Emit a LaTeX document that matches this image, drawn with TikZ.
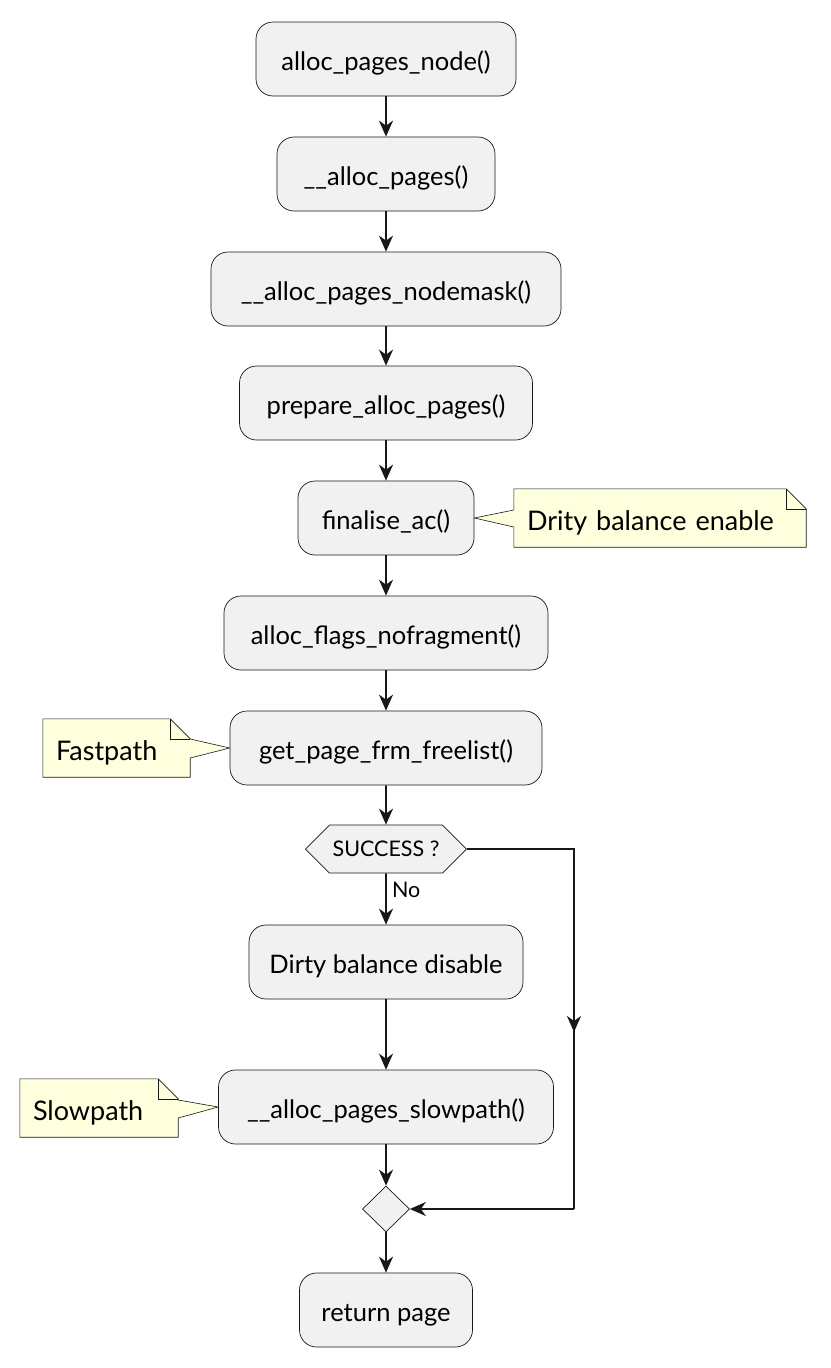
\documentclass[tikz,border=0pt]{standalone}
\usepackage{fontspec}
\setmainfont{Lato}
\usetikzlibrary{shapes.geometric,shapes.symbols,arrows.meta,calc}
\definecolor{actfill}{HTML}{F1F1F1}
\definecolor{linec}{HTML}{181818}
\definecolor{notefill}{HTML}{FEFFDD}
\begin{document}
\begin{tikzpicture}[x=1pt,y=-1pt,
  act/.style={draw=linec, line width=0.7pt, fill=actfill, rounded corners=17pt, inner sep=0pt,
    minimum height=74pt, text height=24pt, text depth=2pt, font=\fontsize{25.5}{30}\selectfont},
  arr/.style={line width=1.6pt, draw=linec, -{Stealth[length=16pt,width=14pt,inset=5pt]}},
  flow/.style={line width=1.6pt, draw=linec},
  notetext/.style={inner xsep=13pt, inner ysep=0pt, align=left, minimum height=58pt,
    text height=25pt, text depth=1pt, font=\fontsize{27}{32}\selectfont},
  notebox/.style={draw=linec, line width=0.6pt, fill=notefill},
  foldline/.style={draw=linec, line width=0.6pt}
]
\useasboundingbox (0,0) rectangle (830,1368);
\fill[white] (0,0) rectangle (830,1368);

\node[act, minimum width=260pt] (a1) at (386,59) {alloc\_pages\_node()};
\node[act, minimum width=218pt] (a2) at (386,174) {\_\_alloc\_pages()};
\node[act, minimum width=350pt] (a3) at (386,289) {\_\_alloc\_pages\_nodemask()};
\node[act, minimum width=293pt] (a4) at (386,403) {prepare\_alloc\_pages()};
\node[act, minimum width=176pt] (a5) at (386,518) {finalise\_ac()};
\node[act, minimum width=324pt] (a6) at (386,633) {alloc\_flags\_nofragment()};
\node[act, minimum width=312pt] (a7) at (386,748) {get\_page\_frm\_freelist()};
\node[draw=linec, line width=0.7pt, fill=actfill, shape=signal, signal to=west and east,
  signal pointer angle=90, minimum width=161pt, minimum height=48pt, inner sep=0pt,
  font=\fontsize{21.5}{25}\selectfont] (s) at (386,849) {SUCCESS ?};
\node[act, minimum width=274pt] (a8) at (386,962) {Dirty balance disable};
\node[act, minimum width=335pt] (a9) at (386,1107) {\_\_alloc\_pages\_slowpath()};
\node[draw=linec, line width=0.7pt, fill=actfill, shape=diamond, minimum width=47pt,
  minimum height=46pt, inner sep=0pt] (d) at (386,1209) {};
\node[act, minimum width=173pt] (a10) at (386,1310) {return page};

\draw[arr] (a1) -- (a2);
\draw[arr] (a2) -- (a3);
\draw[arr] (a3) -- (a4);
\draw[arr] (a4) -- (a5);
\draw[arr] (a5) -- (a6);
\draw[arr] (a6) -- (a7);
\draw[arr] (a7) -- (s);
\draw[arr] (s) -- (a8) node[pos=0.32, right=2pt, font=\fontsize{21.5}{25}\selectfont] (no) {No};
\draw[arr] (a8) -- (a9);
\draw[arr] (a9) -- (d);
\draw[arr] (d) -- (a10);

\coordinate (r1) at (574,849);
\coordinate (rm) at (574,1032);
\coordinate (r2) at (574,1209);
\draw[flow] (s.east) -- (r1) -- (r2);
\draw[arr] (r1) -- (rm);
\draw[arr] (r2) -- (d.east);

% note: Drity balance enable
\path (660,518) node[notetext, text width=266pt] (n1) {\phantom{Drity balance enable}};
\draw[notebox] (n1.north west) -- ($(n1.north east)+(-20,0)$) -- ($(n1.north east)+(0,20)$) -- (n1.south east) -- (n1.south west) -- ($(n1.west)+(0,9)$) -- (a5.east) -- ($(n1.west)+(0,-8)$) -- cycle;
\draw[foldline] ($(n1.north east)+(-20,0)$) -- ($(n1.north east)+(-20,20)$) -- ($(n1.north east)+(0,20)$);
\node[notetext, text width=266pt] at (n1) {Drity balance enable};

% note: Fastpath
\path (116.5,748) node[notetext, text width=121pt] (n2) {\phantom{Fastpath}};
\draw[notebox] (n2.north west) -- ($(n2.north east)+(-20,0)$) -- ($(n2.north east)+(0,20)$) -- ($(n2.east)+(0,-9)$) -- (a7.west) -- ($(n2.east)+(0,10)$) -- (n2.south east) -- (n2.south west) -- cycle;
\draw[foldline] ($(n2.north east)+(-20,0)$) -- ($(n2.north east)+(-20,20)$) -- ($(n2.north east)+(0,20)$);
\node[notetext, text width=121pt] at (n2) {Fastpath};

% note: Slowpath
\path (99,1108) node[notetext, text width=132pt] (n3) {\phantom{Slowpath}};
\draw[notebox] (n3.north west) -- ($(n3.north east)+(-20,0)$) -- ($(n3.north east)+(0,20)$) -- ($(n3.east)+(0,-8)$) -- (a9.west) -- ($(n3.east)+(0,10)$) -- (n3.south east) -- (n3.south west) -- cycle;
\draw[foldline] ($(n3.north east)+(-20,0)$) -- ($(n3.north east)+(-20,20)$) -- ($(n3.north east)+(0,20)$);
\node[notetext, text width=132pt] at (n3) {Slowpath};
\end{tikzpicture}
\end{document}
